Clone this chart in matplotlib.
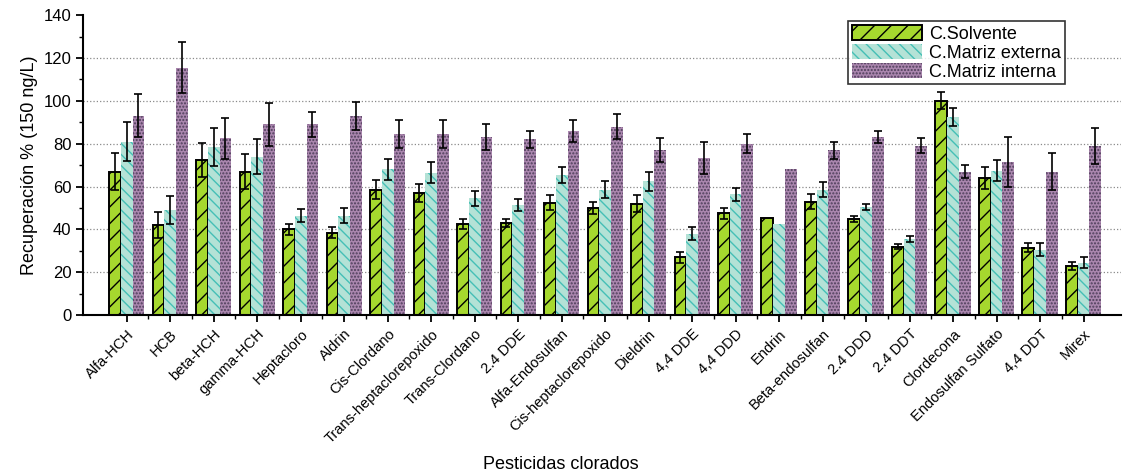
import matplotlib.pyplot as plt
import numpy as np
from matplotlib.ticker import MultipleLocator

# recuperaciones (%) a 150 ng/L y desviaciones
pesticidas = ['Alfa-HCH', 'HCB', 'beta-HCH', 'gamma-HCH', 'Heptacloro', 'Aldrin',
              'Cis-Clordano', 'Trans-heptaclorepoxido', 'Trans-Clordano', '2.4 DDE',
              'Alfa-Endosulfan', 'Cis-heptaclorepoxido', 'Dieldrin', '4,4 DDE', '4,4 DDD',
              'Endrin', 'Beta-endosulfan', '2.4 DDD', '2.4 DDT', 'Clordecona',
              'Endosulfan Sulfato', '4,4 DDT', 'Mirex']

solvente = [67, 42, 72.5, 67, 40, 38.5, 58.5, 57, 42.5, 43, 52.5, 50, 52, 27, 47.5,
            45.5, 53, 45, 32, 100, 64, 31.5, 23]
solvente_err = [8.5, 6, 8, 8, 2.5, 2.5, 4.5, 4, 2.5, 2, 3.5, 3, 4, 2.5, 2.5,
                np.nan, 3.5, 1.5, 1, 4, 5, 2, 2]

matriz_ext = [81, 49, 78.5, 74, 46.5, 46.5, 68, 66.5, 54.5, 51.5, 65.5, 58.5, 62.5, 38, 56.5,
              42.5, 58.5, 50.5, 35.5, 92.5, 67.5, 30.5, 24.5]
matriz_ext_err = [9, 6.5, 9, 8, 3, 3.5, 5, 5, 3.5, 2.7, 3.7, 4, 4.5, 3, 3,
                  np.nan, 3.5, 1.6, 1.5, 4, 5, 3, 2.5]

matriz_int = [93, 115.5, 82.5, 89, 89, 93, 84.5, 84.5, 83, 82, 86, 88, 77, 73.5, 80,
              68, 77, 83, 79, 67, 71.5, 67, 79]
matriz_int_err = [10, 12, 9.5, 10, 6, 6.5, 6.5, 6.5, 6, 4, 5, 6, 5.5, 7.5, 4.5,
                  np.nan, 4, 2.8, 3.5, 3, 11.5, 8.5, 8.5]

plt.rcParams['font.family'] = ['Liberation Sans', 'DejaVu Sans']
plt.rcParams['hatch.linewidth'] = 1.0

fig = plt.figure(figsize=(11.25, 4.74), dpi=100)
ax = fig.add_axes([0.074, 0.335, 0.922, 0.633])

x = np.arange(len(pesticidas))
w = 0.27
err_kw = dict(ecolor='black', elinewidth=1.2, capsize=3, capthick=1.2)

ax.bar(x - w, solvente, w, yerr=solvente_err, color='#a6d82e', edgecolor='black',
       linewidth=1.4, hatch='//', error_kw=err_kw, label='C.Solvente', zorder=2)
ax.bar(x, matriz_ext, w, yerr=matriz_ext_err, color='#b4e2d6', edgecolor='#45bfb6',
       linewidth=0, hatch='\\\\\\', error_kw=err_kw, label='C.Matriz externa', zorder=2)
ax.bar(x + w, matriz_int, w, yerr=matriz_int_err, color='#aa86ae', edgecolor='#4e3e5a',
       linewidth=0, hatch='.....', error_kw=err_kw, label='C.Matriz interna', zorder=2)

ax.set_ylim(0, 140)
ax.set_xlim(-1.0, 22.85)
ax.yaxis.set_major_locator(MultipleLocator(20))
ax.yaxis.set_minor_locator(MultipleLocator(10))
ax.set_xticks(x)
ax.set_xticks(x[:-1] + 0.5, minor=True)
ax.set_xticklabels(pesticidas, rotation=45, ha='right', rotation_mode='anchor', fontsize=10.5)
ax.tick_params(axis='y', labelsize=12)
ax.tick_params(which='major', direction='out', length=5, width=1.3)
ax.tick_params(which='minor', direction='out', length=3, width=1.0)

for y in range(20, 140, 20):
    ax.axhline(y, color='#8a8a8a', linestyle=':', linewidth=0.9, zorder=0)

for side in ['top', 'right']:
    ax.spines[side].set_visible(False)
ax.spines['left'].set_linewidth(1.5)
ax.spines['bottom'].set_linewidth(1.5)

ax.set_ylabel('Recuperación % (150 ng/L)', fontsize=13)
ax.set_xlabel('Pesticidas clorados', fontsize=13, labelpad=0)
ax.xaxis.set_label_coords(0.46, -0.47)

leg = ax.legend(loc='upper right', bbox_to_anchor=(0.955, 1.01), fontsize=13,
                frameon=True, fancybox=False, handlelength=3.9, handleheight=0.95,
                borderpad=0.2, labelspacing=0.05, handletextpad=0.4)
leg.get_frame().set_edgecolor('black')
leg.get_frame().set_linewidth(1.2)

fig.savefig('out.png', dpi=100)
